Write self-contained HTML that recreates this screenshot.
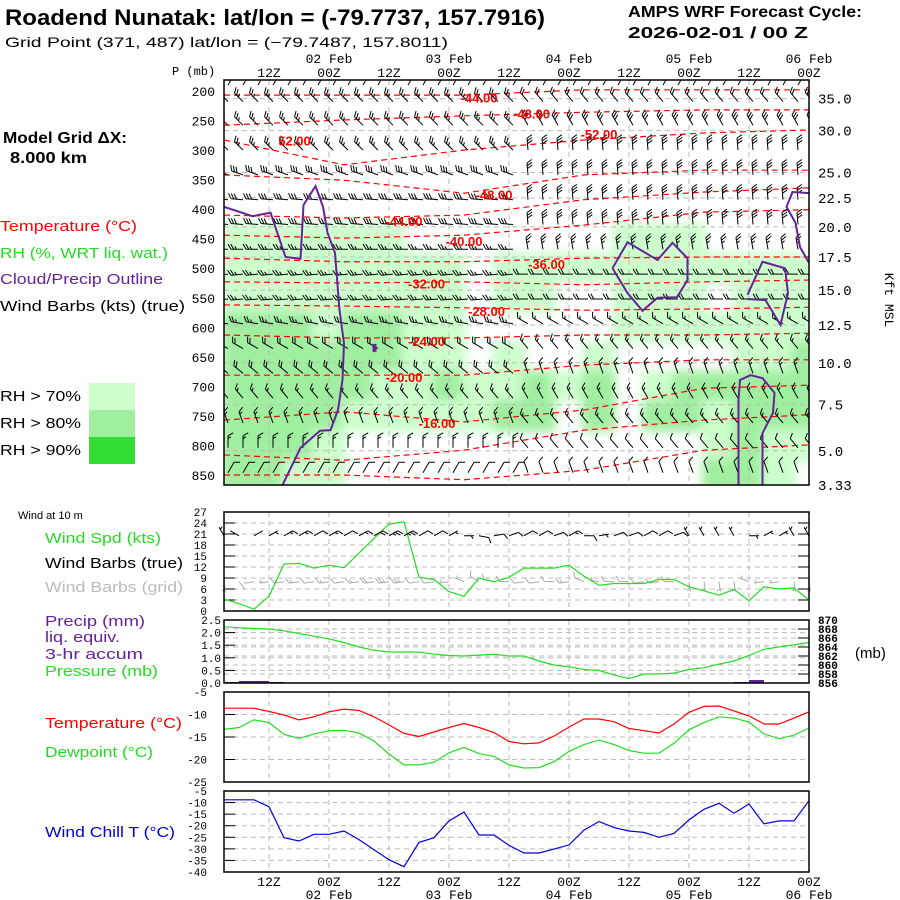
<!DOCTYPE html>
<html><head><meta charset="utf-8"><title>Meteogram</title>
<style>
html,body{margin:0;padding:0;background:#fff;}
svg{display:block;}
.mono{font-family:"Liberation Mono",monospace;}
.sans{font-family:"Liberation Sans",sans-serif;}
</style></head>
<body>
<svg id="chart" width="900" height="900" viewBox="0 0 900 900" xmlns="http://www.w3.org/2000/svg">
<defs>
<clipPath id="clipMain"><rect x="224" y="80" width="585" height="405"/></clipPath>
<filter id="soft" x="-5%" y="-5%" width="110%" height="110%"><feGaussianBlur stdDeviation="5"/></filter>
</defs>
<rect x="0" y="0" width="900" height="900" fill="#fff"/>
<text x="5" y="25" class="sans" font-weight="bold" font-size="22" textLength="540" lengthAdjust="spacingAndGlyphs">Roadend Nunatak:  lat/lon = (-79.7737, 157.7916)</text>
<text x="5" y="47" class="sans" font-size="14" textLength="443" lengthAdjust="spacingAndGlyphs">Grid Point (371, 487) lat/lon = (−79.7487, 157.8011)</text>
<text x="628" y="17" class="sans" font-weight="bold" font-size="16" textLength="234" lengthAdjust="spacingAndGlyphs">AMPS WRF Forecast Cycle:</text>
<text x="628" y="38" class="sans" font-weight="bold" font-size="16" textLength="180" lengthAdjust="spacingAndGlyphs">2026-02-01 / 00  Z</text>
<text x="3" y="143" class="sans" font-weight="bold" font-size="16" textLength="124" lengthAdjust="spacingAndGlyphs">Model Grid ΔX:</text>
<text x="10" y="163" class="sans" font-weight="bold" font-size="16" textLength="77" lengthAdjust="spacingAndGlyphs">8.000 km</text>
<text x="0" y="231" class="sans" font-size="15" fill="#ff0000" textLength="137" lengthAdjust="spacingAndGlyphs">Temperature (°C)</text>
<text x="0" y="258" class="sans" font-size="15" fill="#22dd22" textLength="168" lengthAdjust="spacingAndGlyphs">RH (%, WRT liq. wat.)</text>
<text x="0" y="284" class="sans" font-size="15" fill="#662299" textLength="163" lengthAdjust="spacingAndGlyphs">Cloud/Precip Outline</text>
<text x="0" y="311" class="sans" font-size="15" fill="#000" textLength="185" lengthAdjust="spacingAndGlyphs">Wind Barbs (kts) (true)</text>
<text x="0" y="401" class="sans" font-size="15" textLength="81" lengthAdjust="spacingAndGlyphs">RH &gt; 70%</text>
<text x="0" y="428" class="sans" font-size="15" textLength="81" lengthAdjust="spacingAndGlyphs">RH &gt; 80%</text>
<text x="0" y="455" class="sans" font-size="15" textLength="81" lengthAdjust="spacingAndGlyphs">RH &gt; 90%</text>
<rect x="89" y="383" width="46" height="27" fill="#ccffcc"/>
<rect x="89" y="410" width="46" height="27" fill="#a0eea0"/>
<rect x="89" y="437" width="46" height="27" fill="#33dd33"/>
<text x="172" y="75" class="mono" font-size="12">P (mb)</text>
<text x="885" y="300" class="mono" font-size="13" transform="rotate(90 885 300)" text-anchor="middle">Kft MSL</text>
<text x="18" y="519" class="sans" font-size="11">Wind at 10 m</text>
<text x="45" y="543" class="sans" font-size="15" fill="#22dd22" textLength="116" lengthAdjust="spacingAndGlyphs">Wind Spd (kts)</text>
<text x="45" y="568" class="sans" font-size="15" fill="#000" textLength="138" lengthAdjust="spacingAndGlyphs">Wind Barbs (true)</text>
<text x="45" y="592" class="sans" font-size="15" fill="#bbbbbb" textLength="138" lengthAdjust="spacingAndGlyphs">Wind Barbs (grid)</text>
<text x="45" y="626" class="sans" font-size="15" fill="#662299" textLength="100" lengthAdjust="spacingAndGlyphs">Precip (mm)</text>
<text x="45" y="642" class="sans" font-size="15" fill="#662299" textLength="75" lengthAdjust="spacingAndGlyphs">liq. equiv.</text>
<text x="45" y="659" class="sans" font-size="15" fill="#662299" textLength="98" lengthAdjust="spacingAndGlyphs">3-hr accum</text>
<text x="45" y="676" class="sans" font-size="15" fill="#22dd22" textLength="113" lengthAdjust="spacingAndGlyphs">Pressure (mb)</text>
<text x="855" y="658" class="sans" font-size="15">(mb)</text>
<text x="45" y="728" class="sans" font-size="15" fill="#ff0000" textLength="137" lengthAdjust="spacingAndGlyphs">Temperature (°C)</text>
<text x="45" y="757" class="sans" font-size="15" fill="#22dd22" textLength="108" lengthAdjust="spacingAndGlyphs">Dewpoint (°C)</text>
<text x="45" y="837" class="sans" font-size="15" fill="#0000dd" textLength="130" lengthAdjust="spacingAndGlyphs">Wind Chill T (°C)</text>
<g id="layer"></g>
</svg>
<script>
// ---------- data ----------
const timeSteps = 40; // 3-hourly from 03Z 01 Feb
const tickHours = [9,21,33,45,57,69,81,93,105,117];
const tickLabels = ['12Z','00Z','12Z','00Z','12Z','00Z','12Z','00Z','12Z','00Z'];
const dateHours = [21,45,69,93,117];
const dateLabels = ['02 Feb','03 Feb','04 Feb','05 Feb','06 Feb'];
const pLabels = [200,250,300,350,400,450,500,550,600,650,700,750,800,850];
const kftLabels = ['35.0','30.0','25.0','22.5','20.0','17.5','15.0','12.5','10.0','7.5','5.0','3.33'];
const kftPres = [213,267,338,381,430,481,537,596,660,731,809,867];
const windSpd = [3.3,2,0.5,4,12.8,13,11.7,12.5,11.8,15.8,19.8,23.7,24.3,9.2,8.6,5.3,4,9,8,9.2,11.7,11.7,11.7,12.5,9.5,7,7.5,7.5,7.5,8.6,8.6,6.6,5.5,4.3,5.9,2.8,6.6,6,6.3,3];
const sfcDir = [330,300,60,60,60,60,60,60,60,60,60,60,60,60,60,60,90,100,80,70,60,60,70,60,90,80,70,70,60,60,70,330,330,330,330,90,60,60,330,330];
const pressure = [868.5,868.3,868.1,868,867.6,867,866.4,865.8,865,864,863.3,862.9,862.9,862.9,862.4,862.1,862,862.2,862.4,862,862,860.9,860,859.6,859,858.8,857.8,857,858,858,858.2,859,859.4,860.2,860.9,862.1,863.5,864,864.5,865];
const precip = [0,0.04,0.08,0.08,0.04,0,0,0,0,0,0,0,0,0,0,0,0,0,0,0,0,0,0,0,0,0,0,0,0,0,0,0,0,0,0,0.04,0.12,0,0,0];
const temp = [-8.6,-8.6,-8.6,-9.3,-10.1,-11.2,-10.5,-9.4,-8.8,-9.1,-10.5,-12.3,-14.2,-14.9,-13.9,-12.9,-12,-12.9,-14,-16,-16.5,-16.3,-14.8,-12.8,-11,-11,-11.6,-13.1,-13.6,-14.1,-12.1,-9.5,-8.2,-8.1,-9.2,-10.3,-12.1,-12.1,-10.8,-9.4];
const dew = [-13.3,-12.9,-11.2,-11.8,-14.4,-15.3,-14.3,-13.6,-13.5,-14.1,-15.9,-18.8,-21.2,-21.2,-20.6,-18.5,-17.3,-18.7,-19.3,-21.2,-21.9,-21.8,-20.5,-18.2,-16.7,-15.7,-16.7,-18,-18.6,-18.6,-16.4,-13.4,-11.8,-10.5,-10.8,-11.7,-14.3,-15.4,-14.6,-13];
const chill = [-8.8,-8.8,-8.8,-11.8,-25.2,-26.6,-23.7,-23.7,-22.3,-26,-30.4,-34.7,-37.7,-27.2,-25.2,-17.9,-14.1,-24,-24,-28.5,-31.8,-31.8,-30.1,-28.3,-21.9,-18.2,-20.8,-22.3,-22.9,-25,-23.3,-17.5,-12.9,-10.3,-14.6,-10.6,-19.2,-17.9,-17.9,-9.2];
const rhLevels = [200,250,300,350,400,450,500,550,600,650,700,750,800,850];
const rhCat = [
[0,0,0,0,0,0,0,0,0,0,0,0,0,0,0,0,0,0,0,0],
[0,0,0,0,0,0,0,0,0,0,0,0,0,0,0,0,0,0,0,0],
[0,0,0,0,0,0,0,0,0,0,0,0,0,0,0,0,0,0,0,0],
[0,0,0,0,0,0,0,0,0,0,0,0,0,0,0,0,0,0,0,0],
[0,0,0,0,0,0,0,0,0,0,0,0,0,0,0,0,0,0,0,0],
[1,1,1,1,1,1,0,0,0,0,0,0,0,1,1,1,0,0,0,0],
[1,1,1,1,1,1,1,1,0,1,1,1,1,1,1,1,1,1,1,1],
[1,1,1,1,1,1,1,1,0,1,1,0,0,1,1,1,0,1,1,1],
[2,2,2,1,2,2,1,1,0,0,0,0,0,1,1,1,1,1,1,1],
[2,2,2,2,2,2,1,1,0,1,0,0,1,0,0,0,0,1,1,2],
[2,2,2,2,2,1,1,2,1,1,2,1,2,0,1,2,2,2,2,2],
[2,2,2,2,1,1,1,1,1,2,2,0,2,0,2,2,1,2,2,2],
[2,2,2,1,0,0,0,0,0,0,0,0,0,0,0,0,1,2,1,1],
[2,2,1,1,0,0,0,0,0,0,0,0,0,0,0,0,2,2,1,0]];
const contourT = [0,8,16,24,32,39];
const contourVals = [-44,-48,-52,-48,-44,-40,-36,-32,-28,-24,-20,-16,-12,-8];
const contourP = [
[207,207,207,198,198,198],[258,249,242,236,232,232],[283,325,300,283,271,266],
[342,351,373,342,334,334],[410,415,410,384,371,364],[444,449,444,427,405,401],
[483,489,489,483,481,481],[523,525,523,528,523,520],[562,564,567,571,569,566],
[613,618,618,613,613,610],[681,681,681,664,655,655],[757,743,760,740,703,698],
[816,825,808,774,757,748],[850,850,858,842,808,799]];
const contourLabelText = ['-44.00','-48.00','52.00','-52.00','-48.00','-44.00','-40.00','-36.00','-32.00','-28.00','-24.00','-20.00','-16.00'];
const contourLabelT = [17,20.5,4.7,25,18,12,16,21.5,13.5,17.5,13.5,12,14.2];
const contourLabelP = [211,238,284,273,375,420,454,493,526,572,623,684,762];
const cloudOutlines = [
[[0,396],[1.9,412],[3.1,406],[4.1,481],[5.1,484],[5.3,393],[6.1,361],[6.6,396],[6.9,440],[7.4,474],[7.7,571],[8,627],[7.9,689],[7.6,740],[7.1,774],[6.4,775],[5.1,804],[3.9,867]],
[[25.9,500],[26.9,456],[28.9,486],[29.9,457],[30.9,483],[30.9,520],[30.2,549],[28.9,550],[27.9,572],[26.9,542],[25.9,500]],
[[34.9,545],[35.9,489],[37.4,500],[37.6,542],[37.1,596],[36.1,554],[34.9,552]],
[[39.1,373],[37.9,371],[37.5,396],[38.1,423],[38.4,464],[39,491]],
[[34.3,867],[34.3,723],[34.4,689],[35.1,681],[35.9,686],[36.7,711],[36.6,745],[35.9,779],[35.9,867]]];
const barbLevels = [190,218,258,300,342,384,426,468,510,552,594,636,678,720,762,804,846];
const dirA = [30,315,315,315,290,275,275,270,265,265,280,300,310,320,340,0,30];
const spdA = [5,25,25,25,30,30,30,25,25,25,25,20,20,15,15,15,10];
const dirB = [30,320,330,355,355,355,355,350,270,270,300,320,340,330,320,320,340];
const spdB = [5,20,30,30,30,30,30,25,20,20,15,15,15,15,15,10,10];

// ---------- axes ----------
const X0 = 224, X1 = 809;
function xT(i){ return X0 + i*15; }
function xH(h){ return X0 + (h/3)*15; }
function yP(p){ return 91 + (p-200)*0.5908; }
function yWind(v){ return 611 - v*99/27; }
function yPrec(v){ return 683 - v*63/2.5; }
function yPres(v){ return 683 - (v-856)*63/14; }
function yTemp(v){ return 692 + (-5 - v)*90/20; }
function yChill(v){ return 791 + (-5 - v)*81/35; }

const NS = 'http://www.w3.org/2000/svg';
const layer = document.getElementById('layer');
function mk(tag, attrs, parent){
  const e = document.createElementNS(NS, tag);
  for (const k in attrs) e.setAttribute(k, attrs[k]);
  (parent||layer).appendChild(e);
  return e;
}
function grp(name){
  const g = mk('g', {});
  
  
  return g;
}
function txt(s, attrs, parent){ const t = mk('text', attrs, parent); t.textContent = s; return t; }

// ---------- main panel ----------
const rhG = grp('rh-shading');
rhG.setAttribute('clip-path', 'url(#clipMain)');
const rhInner = mk('g', {filter:'url(#soft)'}, rhG);
const rhColors = ['none','#ccffcc','#a0eea0','#33dd33'];
rhCat.forEach((row, r) => {
  row.forEach((c, j) => {
    if (!c) return;
    const y0 = yP(rhLevels[r]-25), y1 = yP(rhLevels[r]+25);
    const cell = mk('rect', {x: X0 + j*30 - 2, y: y0 - 1, width: 34, height: y1 - y0 + 2, fill: rhColors[c]}, rhInner);
    
    
  });
});

const gridMain = grp('main-gridlines');
kftPres.forEach(p => {
  const l = mk('line', {x1:X0, x2:X1, y1:yP(p), y2:yP(p), stroke:'#bbbbbb', 'stroke-dasharray':'5,4', 'stroke-width':1}, gridMain);
  
  
});

function vGrid(y0, y1, parent){
  tickHours.forEach(h => {
    const l = mk('line', {x1:xH(h), x2:xH(h), y1:y0, y2:y1, stroke:'#bbbbbb', 'stroke-dasharray':'5,4'}, parent);
    
    
  });
}
vGrid(80, 485, gridMain);

const contG = grp('temperature-contours');
contG.setAttribute('clip-path', 'url(#clipMain)');
contourVals.forEach((v, k) => {
  const pts = contourT.map((t, n) => xT(t) + ',' + yP(contourP[k][n])).join(' ');
  const pl = mk('polyline', {points: pts, fill:'none', stroke:'#ff0000', 'stroke-width':1.2, 'stroke-dasharray':'6,4'}, contG);
  
  
});

function barb(parent, x, y, dir, spd, color, L){
  const r = dir*Math.PI/180;
  const ux = Math.sin(r), uy = -Math.cos(r);
  const ex = x + ux*L, ey = y + uy*L;
  let d = 'M' + x.toFixed(1) + ' ' + y.toFixed(1) + 'L' + ex.toFixed(1) + ' ' + ey.toFixed(1);
  const br = r + Math.PI/3;
  const bx = Math.sin(br), by = -Math.cos(br);
  let s = Math.round(spd/5)*5, k = 0;
  while (s >= 10){ const sx = ex - ux*k*2.8, sy = ey - uy*k*2.8; d += 'M'+sx.toFixed(1)+' '+sy.toFixed(1)+'l'+(bx*6).toFixed(1)+' '+(by*6).toFixed(1); s -= 10; k++; }
  if (s >= 5){ if (k===0) k = 1; const sx = ex - ux*k*2.8, sy = ey - uy*k*2.8; d += 'M'+sx.toFixed(1)+' '+sy.toFixed(1)+'l'+(bx*3.5).toFixed(1)+' '+(by*3.5).toFixed(1); }
  const p = mk('path', {d: d, stroke: color, 'stroke-width':1, fill:'none'}, parent);
  
  
}
const barbG = grp('upper-wind-barbs');
barbG.setAttribute('clip-path', 'url(#clipMain)');
barbLevels.forEach((p, li) => {
  for (let t = 0; t < timeSteps; t++){
    const dir = t < 20 ? dirA[li] : dirB[li];
    const spd = t < 20 ? spdA[li] : spdB[li];
    barb(barbG, xT(t) + 4, yP(p), dir, spd, '#000', 12);
  }
});

const cloudG = grp('cloud-outlines');
cloudG.setAttribute('clip-path', 'url(#clipMain)');
cloudOutlines.forEach(o => {
  const pts = o.map(q => xT(q[0]) + ',' + yP(q[1])).join(' ');
  const pl = mk('polyline', {points: pts, fill:'none', stroke:'#662299', 'stroke-width':2}, cloudG);
  
  
});
const blob = mk('rect', {x: xT(9.9), y: yP(628), width: 4, height: 8, fill:'#662299'}, cloudG);



const clG = grp('contour-labels');
contourLabelText.forEach((s, i) => {
  const t = txt(s, {x: xT(contourLabelT[i]), y: yP(contourLabelP[i]) + 5, 'text-anchor':'middle', class:'sans', 'font-weight':'bold', 'font-size':13, fill:'#ff0000'}, clG);
  
  
});
const mainFrame = mk('rect', {x:X0, y:80, width:X1-X0, height:405, fill:'none', stroke:'#000', 'stroke-width':1.5});



const pAx = grp('pressure-axis');
pLabels.forEach(p => {
  const t = txt(String(p), {x:215, y:yP(p)+5, 'text-anchor':'end', class:'mono', 'font-size':13}, pAx);
  
  
});
const kAx = grp('kft-axis');
kftLabels.forEach((s, i) => {
  const t = txt(s, {x:818, y:yP(kftPres[i])+5, class:'mono', 'font-size':14}, kAx);
  
  
});
function timeLabels(yH, yD, name){
  const g = grp(name);
  tickHours.forEach((h, i) => {
    const t = txt(tickLabels[i], {x:xH(h), y:yH, 'text-anchor':'middle', class:'mono', 'font-size':13}, g);
    
    
  });
  dateHours.forEach((h, i) => {
    const t = txt(dateLabels[i], {x:xH(h), y:yD, 'text-anchor':'middle', class:'mono', 'font-size':13}, g);
    
    
  });
}
timeLabels(77, 63, 'top-time-axis');
timeLabels(886, 899, 'bottom-time-axis');

// ---------- lower panels ----------
function panel(name, y0, y1, ticks, yf, labX){
  const g = grp(name);
  ticks.forEach(v => {
    const y = yf(v);
    const l = mk('line', {x1:X0, x2:X1, y1:y, y2:y, stroke:'#bbbbbb', 'stroke-dasharray':'5,4'}, g);
    
    
    const tk = mk('line', {x1:X0, x2:X0+11, y1:y, y2:y, stroke:'#000'}, g);
    
    
    const t = txt(String(v), {x:labX, y:y+4, 'text-anchor':'end', class:'mono', 'font-size':11}, g);
    
    
  });
  vGrid(y0, y1, g);
  return g;
}
function frame(name, y0, y1){
  const r = mk('rect', {x:X0, y:y0, width:X1-X0, height:y1-y0, fill:'none', stroke:'#000', 'stroke-width':1.5});
  
  
}
function line(name, vals, yf, color, parent){
  const pts = vals.map((v, i) => xT(i) + ',' + yf(v).toFixed(1)).join(' ');
  const pl = mk('polyline', {points: pts, fill:'none', stroke:color, 'stroke-width':1.2}, parent);
  
  
}

const windTicks = [0,3,6,9,12,15,18,21,24,27];
const wp = panel('wind-panel', 512, 611, windTicks, yWind, 207);
windTicks.forEach(v => {
  const tk = mk('line', {x1:X1-11, x2:X1, y1:yWind(v), y2:yWind(v), stroke:'#000'}, wp);
  
  
});
for (let t = 0; t < timeSteps; t++){
  barb(wp, xT(t), yWind(8), sfcDir[t] - 158, windSpd[t], '#aaaaaa', 10);
}
line('wind-speed-line', windSpd, yWind, '#22dd22', wp);
for (let t = 0; t < timeSteps; t++){
  barb(wp, xT(t), yWind(20.5), sfcDir[t], windSpd[t], '#000', 10);
}
frame('wind-panel-frame', 512, 611);

const precTicks = [0.0,0.5,1.0,1.5,2.0,2.5];
const pp = panel('precip-pressure-panel', 620, 683, precTicks, yPrec, 221);
pp.querySelectorAll('text').forEach((t, i) => { t.textContent = precTicks[i].toFixed(1); });
const presTicks = [856,858,860,862,864,866,868,870];
presTicks.forEach(v => {
  const l = mk('line', {x1:X0, x2:X1, y1:yPres(v), y2:yPres(v), stroke:'#bbbbbb', 'stroke-dasharray':'5,4'}, pp);
  
  
  const tk = mk('line', {x1:X1-11, x2:X1, y1:yPres(v), y2:yPres(v), stroke:'#000'}, pp);
  
  
  const t = txt(String(v), {x:818, y:yPres(v)+4, class:'mono', 'font-size':11, 'font-weight':'bold'}, pp);
  
  
});
precip.forEach((v, i) => {
  if (!v || i === 0) return;
  const b = mk('rect', {x:xT(i-1), y:yPrec(v), width:15, height:yPrec(0)-yPrec(v), fill:'#662299'}, pp);
  
  
});
line('pressure-line', pressure, yPres, '#22dd22', pp);
frame('precip-panel-frame', 620, 683);

const tp = panel('temperature-panel', 692, 782, [-5,-10,-15,-20,-25], yTemp, 207);
line('temperature-line', temp, yTemp, '#ff0000', tp);
line('dewpoint-line', dew, yTemp, '#22dd22', tp);
frame('temperature-panel-frame', 692, 782);

const cp = panel('wind-chill-panel', 791, 872, [-5,-10,-15,-20,-25,-30,-35,-40], yChill, 207);
line('wind-chill-line', chill, yChill, '#0000dd', cp);
frame('wind-chill-panel-frame', 791, 872);
</script>
</body></html>
